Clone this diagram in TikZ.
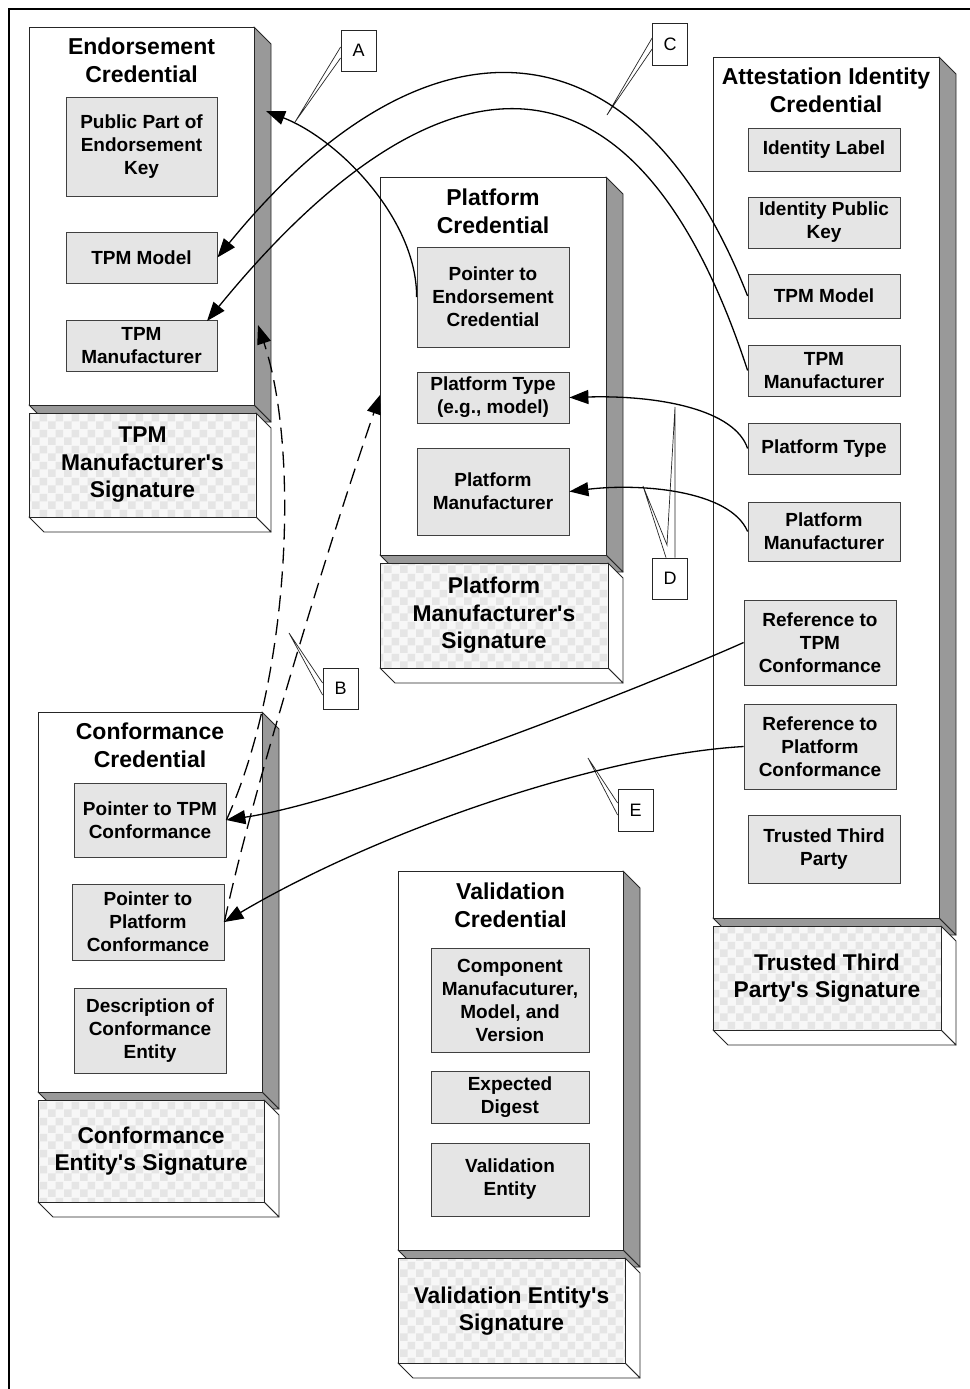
\documentclass[tikz,border=0pt]{standalone}
\usepackage{fontspec}
\setmainfont{Liberation Sans}[Ligatures=TeXOff]
\usetikzlibrary{arrows.meta,patterns}

% light checker used on the signature slabs
\pgfdeclarepatternformonly{sigcheck}{\pgfqpoint{0pt}{0pt}}{\pgfqpoint{16pt}{16pt}}{\pgfqpoint{16pt}{16pt}}{%
  \pgfpathrectangle{\pgfqpoint{0pt}{0pt}}{\pgfqpoint{8pt}{8pt}}%
  \pgfpathrectangle{\pgfqpoint{8pt}{8pt}}{\pgfqpoint{8pt}{8pt}}%
  \pgfusepath{fill}}

\newcommand\titlefont{\fontsize{23}{28}\selectfont\bfseries}
\newcommand\fieldfont{\fontsize{19}{23}\selectfont\bfseries}
\newcommand\sigfont{\fontsize{22.8}{27.5}\selectfont\bfseries}
\newcommand\callfont{\fontsize{18}{20}\selectfont}

\tikzset{
  credfront/.style={fill=white, draw=black!85, line width=0.9pt},
  credside/.style={fill=black!40, draw=black!85, line width=0.9pt, line join=round},
  sigside/.style={fill=white, draw=black!85, line width=0.9pt, line join=round},
  sigedge/.style={draw=black!85, line width=0.9pt},
  field/.style={draw=black!75, fill=black!10, line width=0.8pt, inner sep=0pt,
                align=center, font=\fieldfont, text=black},
  ctitle/.style={align=center, font=\titlefont, inner sep=0pt},
  sigtext/.style={align=center, font=\sigfont, inner sep=0pt},
  link/.style={line width=1.3pt, -{Triangle[length=19pt,width=14pt]}},
  weaklink/.style={link, dash pattern=on 16pt off 8pt},
  callbox/.style={draw=black!85, fill=white, line width=0.8pt, minimum width=35pt,
                  minimum height=41pt, inner sep=0pt, font=\callfont},
  callwedge/.style={draw=black!85, line width=0.7pt, line join=miter}
}

% credential slab with its signature slab below
% #1,#2 = front top-left, #3,#4 = front bottom-right, #5 = signature bottom
\newcommand\credbox[5]{%
  \pgfmathsetmacro\cbxa{#3+17}%
  \pgfmathsetmacro\cbya{#2+17}%
  \pgfmathsetmacro\cbyb{#4+17}%
  \pgfmathsetmacro\cbxl{#1+17}%
  \pgfmathsetmacro\cbst{#4+8}%
  \pgfmathsetmacro\cbsr{#3+2}%
  \pgfmathsetmacro\cbsd{\cbst+15}%
  \pgfmathsetmacro\cbsb{#5+15}%
  \pgfmathsetmacro\cbsl{#1+15}%
  \filldraw[credside] (#3,#2) -- (\cbxa,\cbya) -- (\cbxa,\cbyb) -- (#3,#4) -- cycle;
  \filldraw[credside] (#1,#4) -- (#3,#4) -- (\cbxa,\cbyb) -- (\cbxl,\cbyb) -- cycle;
  \filldraw[credfront] (#1,#2) rectangle (#3,#4);
  \filldraw[sigside] (\cbsr,\cbst) -- (\cbxa,\cbsd) -- (\cbxa,\cbsb) -- (\cbsr,#5) -- cycle;
  \filldraw[sigside] (#1,#5) -- (\cbsr,#5) -- (\cbxa,\cbsb) -- (\cbsl,\cbsb) -- cycle;
  \fill[black!3] (#1,\cbst) rectangle (\cbsr,#5);
  \fill[pattern=sigcheck, pattern color=black!10] (#1,\cbst) rectangle (\cbsr,#5);
  \draw[sigedge] (#1,\cbst) rectangle (\cbsr,#5);
}

\begin{document}
\begin{tikzpicture}[x=1pt,y=-1pt]
\useasboundingbox (0,0) rectangle (969,1389);
\fill[white] (0,0) rectangle (969,1389);
\draw[line width=2pt] (9,9) rectangle (985,1405);

% ---------------- Endorsement credential
\credbox{29}{27}{254}{405}{517}
\node[ctitle] (ectitle) at (141.5,60) {Endorsement\\Credential};
\node[field, minimum width=151pt, minimum height=99pt] (ecpub) at (141.5,146.5) {Public Part of\\Endorsement\\Key};
\node[field, minimum width=151pt, minimum height=51pt] (ectm) at (141.5,257.5) {TPM Model};
\node[field, minimum width=151pt, minimum height=51pt] (ectmf) at (141.5,345.5) {TPM\\Manufacturer};
\node[sigtext] (ecsig) at (142.5,465) {TPM\\Manufacturer's\\Signature};

% ---------------- Platform credential
\credbox{380}{177}{606}{555}{668}
\node[ctitle] (pctitle) at (493,211) {Platform\\Credential};
\node[field, minimum width=152pt, minimum height=100pt] (pcptr) at (493,297) {Pointer to\\Endorsement\\Credential};
\node[field, minimum width=152pt, minimum height=51pt] (pctype) at (493,397.5) {Platform Type\\(e.g., model)};
\node[field, minimum width=152pt, minimum height=87pt] (pcmf) at (493,491.5) {Platform\\Manufacturer};
\node[sigtext] (pcsig) at (494,615.5) {Platform\\Manufacturer's\\Signature};

% ---------------- Attestation identity credential
\credbox{713}{57}{939}{918}{1030}
\node[ctitle] (aictitle) at (826,90) {Attestation Identity\\Credential};
\node[field, minimum width=152pt, minimum height=43pt] (idlabel) at (824,149.5) {Identity Label};
\node[field, minimum width=152pt, minimum height=51pt] (idpub) at (824,222.5) {Identity Public\\Key};
\node[field, minimum width=152pt, minimum height=44pt] (aictm) at (824,296) {TPM Model};
\node[field, minimum width=152pt, minimum height=51pt] (aictmf) at (824,370.5) {TPM\\Manufacturer};
\node[field, minimum width=152pt, minimum height=51pt] (aictype) at (824,448.5) {Platform Type};
\node[field, minimum width=152pt, minimum height=59pt] (aicmf) at (824,531.5) {Platform\\Manufacturer};
\node[field, minimum width=152pt, minimum height=85pt] (reftpm) at (820,642.5) {Reference to\\TPM\\Conformance};
\node[field, minimum width=152pt, minimum height=85pt] (refplat) at (820,746.5) {Reference to\\Platform\\Conformance};
\node[field, minimum width=152pt, minimum height=68pt] (ttp) at (824,849) {Trusted Third\\Party};
\node[sigtext] (aicsig) at (827,978) {Trusted Third\\Party's Signature};

% ---------------- Conformance credential
\credbox{38}{712}{262}{1092}{1202}
\node[ctitle] (cctitle) at (150,745) {Conformance\\Credential};
\node[field, minimum width=152pt, minimum height=74pt] (ptrtpm) at (150,820) {Pointer to TPM\\Conformance};
\node[field, minimum width=152pt, minimum height=76pt] (ptrplat) at (148,922) {Pointer to\\Platform\\Conformance};
\node[field, minimum width=152pt, minimum height=85pt] (desc) at (150,1030.5) {Description of\\Conformance\\Entity};
\node[sigtext] (ccsig) at (151,1151) {Conformance\\Entity's Signature};

% ---------------- Validation credential
\credbox{398}{871}{623}{1250}{1363}
\node[ctitle] (vctitle) at (510.5,905) {Validation\\Credential};
\node[field, minimum width=158pt, minimum height=104pt] (comp) at (510,1000) {Component\\Manufacuturer,\\Model, and\\Version};
\node[field, minimum width=158pt, minimum height=52pt] (digest) at (510,1097) {Expected\\Digest};
\node[field, minimum width=158pt, minimum height=73pt] (valent) at (510,1179.5) {Validation\\Entity};
\node[sigtext] (vcsig) at (511.5,1311) {Validation Entity's\\Signature};

% ---------------- free ends of links and callout pointers
\coordinate (ecside) at (266,111);
\coordinate (ectmfend) at (207,321);
\coordinate (ecsideb) at (258,325);
\coordinate (pcleft) at (380,395);
\coordinate (atip) at (295,122);
\coordinate (ctip) at (607,115);
\coordinate (btip) at (289,633);
\coordinate (etip) at (588,758);
\coordinate (dtipa) at (675,407);
\coordinate (dtipb) at (643,486);
\coordinate (dmid) at (667,545);

% ---------------- callouts
\node[callbox] (calla) at (358.5,50.5) {A};
\draw[callwedge] ([yshift=3.5pt]calla.west) -- (atip) -- ([yshift=-7.5pt]calla.west);
\node[callbox, minimum height=42pt] (callc) at (670,44) {C};
\draw[callwedge] ([yshift=6pt]callc.west) -- (ctip) -- ([yshift=-5pt]callc.west);
\node[callbox] (callb) at (340.5,688.5) {B};
\draw[callwedge] ([yshift=5.5pt]callb.west) -- (btip) -- ([yshift=-6.5pt]callb.west);
\node[callbox, minimum height=42pt] (calle) at (635.5,810) {E};
\draw[callwedge] ([yshift=7pt]calle.west) -- (etip) -- ([yshift=-5pt]calle.west);
\node[callbox] (calld) at (670,578.5) {D};
\draw[callwedge] ([xshift=5pt]calld.north) -- (dtipa) -- (dmid) -- (dtipb) -- ([xshift=-4pt]calld.north);

% ---------------- links between credentials
\draw[link] (pcptr.west) .. controls (417,220) and (340,140) .. (ecside);
\draw[link] (aictm.west) .. controls (635,9) and (422,6) .. (ectm.east);
\draw[link] (aictmf.west) .. controls (626,-1) and (416,65) .. (ectmfend);
\draw[link] (aictype.west) .. controls (735,410) and (660,395) .. (pctype.east);
\draw[link] (aicmf.west) .. controls (730,490) and (640,483) .. (pcmf.east);
\draw[link] (reftpm.west) .. controls (660,680) and (360,800) .. (ptrtpm.east);
\draw[link] (refplat.west) .. controls (600,755) and (380,830) .. (ptrplat.east);
\draw[weaklink] (ptrtpm.east) .. controls (290,680) and (300,450) .. (ecsideb);
\draw[weaklink] (ptrplat.east) .. controls (250,800) and (330,540) .. (pcleft);
\end{tikzpicture}
\end{document}
